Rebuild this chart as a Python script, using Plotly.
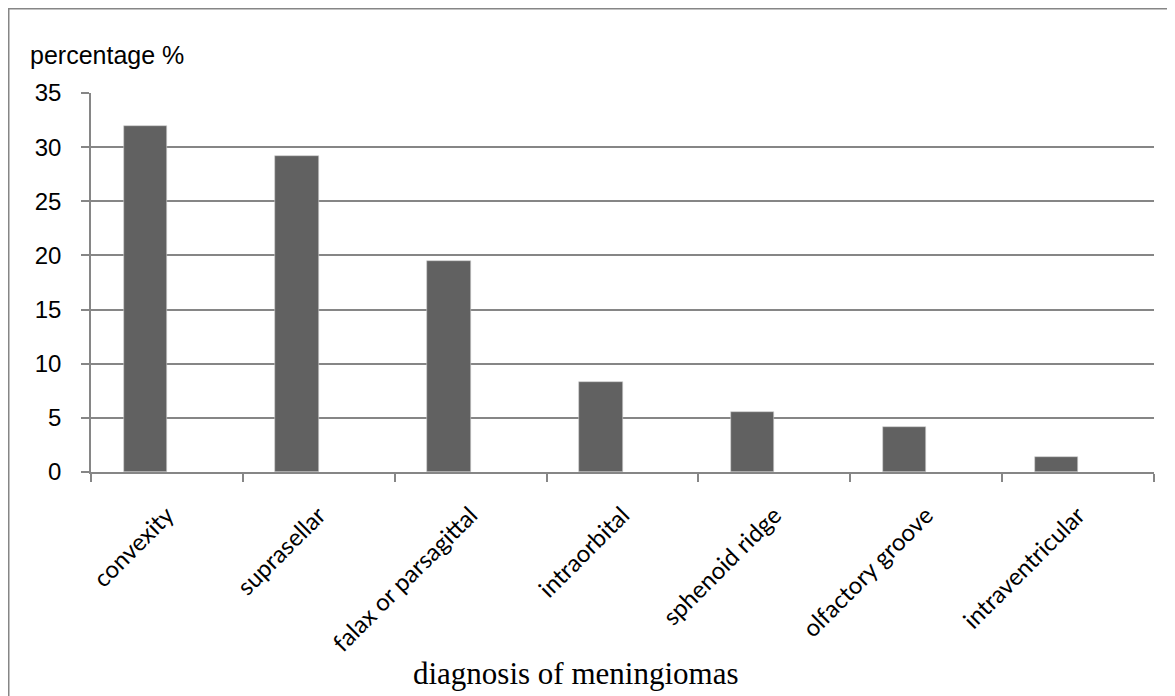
import plotly.graph_objects as go

categories = ["convexity", "suprasellar", "falax or parsagittal", "intraorbital",
              "sphenoid ridge", "olfactory groove", "intraventricular"]
percentages = [31.94, 29.17, 19.44, 8.33, 5.56, 4.17, 1.39]
y_ticks = [0, 5, 10, 15, 20, 25, 30, 35]

GRAY = "#868686"

fig = go.Figure()
fig.add_trace(go.Bar(
    x=categories, y=percentages,
    width=0.2857, offset=-0.2857,
    marker=dict(color="#616161", line=dict(color="#d0d0d0", width=0.6)),
    showlegend=False,
))

# the page body has an 8px margin; figure sized to fit the window exactly
W, H = 1167, 688
L, R, T, B = 83, 21, 85, 224
pw, ph = W - L - R, H - T - B

fig.update_layout(
    width=W, height=H,
    margin=dict(l=L, r=R, t=T, b=B, autoexpand=False),
    paper_bgcolor="white", plot_bgcolor="white",
    xaxis=dict(
        type="category", tickson="boundaries", ticks="outside", ticklen=8,
        tickcolor=GRAY, tickwidth=1.5, showline=True, linecolor=GRAY, linewidth=1.5,
        showgrid=False, tickangle=-45, ticklabelstandoff=18,
        tickfont=dict(family="Lato, Open Sans, sans-serif", size=24, color="black"),
    ),
    yaxis=dict(
        range=[0, 35], tickvals=y_ticks, ticks="outside", ticklen=8,
        tickcolor=GRAY, tickwidth=1.5, showline=True, linecolor=GRAY, linewidth=1.5,
        showgrid=True, gridcolor=GRAY, gridwidth=1.5, zeroline=False,
        ticklabelstandoff=15,
        tickfont=dict(family="Liberation Sans, Arial, sans-serif", size=24, color="black"),
    ),
    bargap=0,
)

fig.add_annotation(
    text="percentage %", xref="paper", yref="paper",
    x=(20 - L) / pw, y=1 + (T - 47) / ph, xanchor="left", yanchor="middle",
    showarrow=False,
    font=dict(family="Liberation Sans, Arial, sans-serif", size=25, color="black"),
)
fig.add_annotation(
    text="diagnosis of meningiomas", xref="paper", yref="paper",
    x=(567 - L) / pw, y=-(665 - (H - B)) / ph, xanchor="center", yanchor="middle",
    showarrow=False,
    font=dict(family="Liberation Serif, Times New Roman, serif", size=31, color="black"),
)

# outer chart border (top and left visible, extending beyond the window)
fig.add_shape(
    type="rect", xref="paper", yref="paper",
    x0=(0 - L) / pw, x1=(W + 30 - L) / pw,
    y0=-(H + 30 - (H - B)) / ph, y1=1 + (T - 0) / ph,
    line=dict(color=GRAY, width=3), fillcolor="rgba(0,0,0,0)", layer="below",
)

fig.write_html("out.html")
